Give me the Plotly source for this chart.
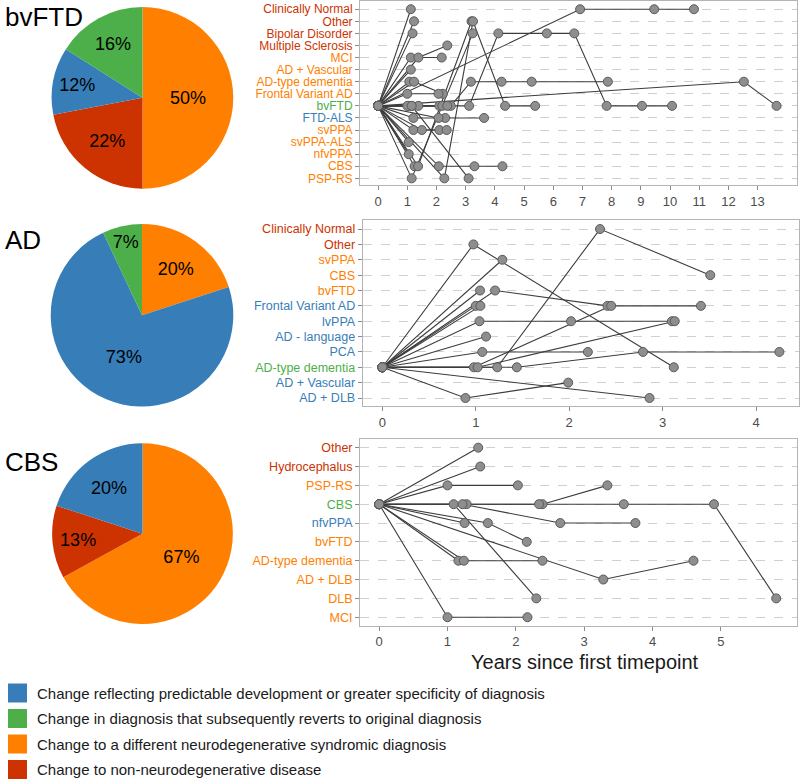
import plotly.graph_objects as go

BLUE = "#377EB8"
GREEN = "#4DAF4A"
ORANGE = "#FF7F00"
RED = "#CC3300"
FONT = "Liberation Sans, Arial, sans-serif"

# ---------------- pie data ----------------
pie_bvftd_values = [50, 22, 12, 16]
pie_bvftd_colors = [ORANGE, RED, BLUE, GREEN]
pie_ad_values = [20, 73, 7]
pie_ad_colors = [ORANGE, BLUE, GREEN]
pie_cbs_values = [67, 13, 20]
pie_cbs_colors = [ORANGE, RED, BLUE]

# ---------------- category axes (bottom -> top) ----------------
bvftd_categories = ["PSP-RS", "CBS", "nfvPPA", "svPPA-ALS", "svPPA", "FTD-ALS", "bvFTD",
                    "Frontal Variant AD", "AD-type dementia", "AD + Vascular", "MCI",
                    "Multiple Sclerosis", "Bipolar Disorder", "Other", "Clinically Normal"]
bvftd_label_colors = [ORANGE, ORANGE, ORANGE, ORANGE, ORANGE, BLUE, GREEN,
                      ORANGE, ORANGE, ORANGE, ORANGE, RED, RED, RED, RED]

ad_categories = ["AD + DLB", "AD + Vascular", "AD-type dementia", "PCA", "AD - language",
                 "lvPPA", "Frontal Variant AD", "bvFTD", "CBS", "svPPA", "Other",
                 "Clinically Normal"]
ad_label_colors = [BLUE, BLUE, GREEN, BLUE, BLUE, BLUE, BLUE, ORANGE, ORANGE, ORANGE, RED, RED]

cbs_categories = ["MCI", "DLB", "AD + DLB", "AD-type dementia", "bvFTD", "nfvPPA", "CBS",
                  "PSP-RS", "Hydrocephalus", "Other"]
cbs_label_colors = [ORANGE, ORANGE, ORANGE, ORANGE, ORANGE, BLUE, GREEN, ORANGE, RED, RED]

# ---------------- trajectories: years and diagnoses per patient ----------------
bvftd_times = [
    [0, 1.12], [0, 1.23], [0, 1.18], [0, 1.12, 2.18], [0, 1.38, 2.37], [0, 1.12],
    [0, 1.07], [0, 1.23, 2.22], [0, 1.0, 2.07], [0, 6.92, 9.46, 10.82], [0, 12.53, 13.65],
    [0, 1.05, 2.1, 3.12, 4.12, 5.78, 6.72, 7.83, 9.04, 10.07],
    [0, 1.16, 2.2], [0, 1.38, 2.49, 3.18, 4.23, 5.26, 7.87], [0, 1.0, 2.37],
    [0, 1.21, 2.3, 3.63], [0, 2.07], [0, 1.21, 2.1], [0, 1.5, 2.35], [0, 1.05], [0, 1.05],
    [0, 1.25], [0, 1.37, 3.2], [0, 2.08, 3.3, 4.26], [0, 1.15, 3.24],
    [0, 2.27, 3.25, 4.35, 5.38], [0, 1.15, 3.1],
]
bvftd_dx = [
    ["bvFTD", "Clinically Normal"], ["bvFTD", "Other"], ["bvFTD", "Bipolar Disorder"],
    ["bvFTD", "MCI", "MCI"], ["bvFTD", "MCI", "Multiple Sclerosis"], ["bvFTD", "AD + Vascular"],
    ["bvFTD", "AD-type dementia"], ["bvFTD", "AD-type dementia", "Frontal Variant AD"],
    ["bvFTD", "Frontal Variant AD", "Frontal Variant AD"],
    ["bvFTD", "Clinically Normal", "Clinically Normal", "Clinically Normal"],
    ["bvFTD", "AD-type dementia", "bvFTD"],
    ["bvFTD", "bvFTD", "bvFTD", "bvFTD", "Bipolar Disorder", "Bipolar Disorder",
     "Bipolar Disorder", "bvFTD", "bvFTD", "bvFTD"],
    ["bvFTD", "bvFTD", "bvFTD"],
    ["bvFTD", "bvFTD", "bvFTD", "AD-type dementia", "AD-type dementia", "AD-type dementia",
     "AD-type dementia"],
    ["bvFTD", "bvFTD", "bvFTD"],
    ["bvFTD", "FTD-ALS", "FTD-ALS", "FTD-ALS"], ["bvFTD", "FTD-ALS"],
    ["bvFTD", "svPPA", "svPPA"], ["bvFTD", "svPPA", "svPPA"], ["bvFTD", "svPPA-ALS"],
    ["bvFTD", "nfvPPA"], ["bvFTD", "CBS"], ["bvFTD", "CBS", "Other"],
    ["bvFTD", "CBS", "CBS", "CBS"], ["bvFTD", "PSP-RS", "Bipolar Disorder"],
    ["bvFTD", "PSP-RS", "Other", "bvFTD", "bvFTD"], ["bvFTD", "bvFTD", "PSP-RS"],
]

ad_times = [
    [0, 0.975, 3.12], [0, 1.285], [0, 1.23, 2.33, 3.51], [0, 1.207, 2.41, 3.41], [0, 1.046],
    [0, 1.0], [0, 1.05], [0, 1.04, 2.02, 3.10], [0, 0.98, 2.45], [0, 1.11], [0, 1.07, 2.2],
    [0, 1.02, 3.13], [0, 1.44, 2.79, 4.25], [0, 0.89, 1.99], [0, 2.86],
]
ad_dx = [
    ["AD-type dementia", "Other", "AD-type dementia"], ["AD-type dementia", "svPPA"],
    ["AD-type dementia", "AD-type dementia", "Clinically Normal", "CBS"],
    ["AD-type dementia", "bvFTD", "Frontal Variant AD", "Frontal Variant AD"],
    ["AD-type dementia", "bvFTD"], ["AD-type dementia", "Frontal Variant AD"],
    ["AD-type dementia", "Frontal Variant AD"],
    ["AD-type dementia", "lvPPA", "lvPPA", "lvPPA"],
    ["AD-type dementia", "AD-type dementia", "Frontal Variant AD"],
    ["AD-type dementia", "AD - language"], ["AD-type dementia", "PCA", "PCA"],
    ["AD-type dementia", "AD-type dementia", "lvPPA"],
    ["AD-type dementia", "AD-type dementia", "PCA", "PCA"],
    ["AD-type dementia", "AD + DLB", "AD + Vascular"], ["AD-type dementia", "AD + DLB"],
]

cbs_times = [
    [0, 1.45], [0, 1.48], [0, 1.0, 2.03], [0, 2.39, 3.34], [0, 1.28, 2.34, 3.58, 4.90, 5.81],
    [0, 1.25], [0, 1.22, 2.65, 3.75], [0, 1.59, 2.16], [0, 1.16], [0, 1.24, 2.39],
    [0, 3.28, 4.60], [0, 1.09, 2.30], [0, 1.0, 2.17],
]
cbs_dx = [
    ["CBS", "Other"], ["CBS", "Hydrocephalus"], ["CBS", "PSP-RS", "PSP-RS"],
    ["CBS", "CBS", "PSP-RS"], ["CBS", "CBS", "CBS", "CBS", "CBS", "DLB"],
    ["CBS", "nfvPPA"], ["CBS", "CBS", "nfvPPA", "nfvPPA"], ["CBS", "nfvPPA", "bvFTD"],
    ["CBS", "AD-type dementia"], ["CBS", "AD-type dementia", "AD-type dementia"],
    ["CBS", "AD + DLB", "AD-type dementia"], ["CBS", "CBS", "DLB"], ["CBS", "MCI", "MCI"],
]

legend_labels = [
    "Change reflecting predictable development or greater specificity of diagnosis",
    "Change in diagnosis that subsequently reverts to original diagnosis",
    "Change to a different neurodegenerative syndromic diagnosis",
    "Change to non-neurodegenerative disease",
]
legend_colors = [BLUE, GREEN, ORANGE, RED]

W, H = 800, 780


def px(x):
    return x / W


def py(y):
    return 1 - y / H


fig = go.Figure()

# ---------------- pies ----------------
pies = [
    (pie_bvftd_values, pie_bvftd_colors, [51.7, 233.3], [6.7, 189.0]),
    (pie_ad_values, pie_ad_colors, [50.7, 233.3], [223.3, 407.3]),
    (pie_cbs_values, pie_cbs_colors, [51.7, 233.3], [443.3, 624.0]),
]
for vals, cols, xd, yd in pies:
    fig.add_trace(go.Pie(
        values=vals, marker=dict(colors=cols, line=dict(width=0)),
        sort=False, direction="clockwise", rotation=0,
        texttemplate="%{value}%", textposition="inside", insidetextorientation="horizontal",
        insidetextfont=dict(size=18, color="black", family=FONT),
        domain=dict(x=[px(xd[0]), px(xd[1])], y=[py(yd[1]), py(yd[0])]),
        showlegend=False, hoverinfo="skip",
    ))

# ---------------- trajectory panels ----------------
panels = [
    dict(times=bvftd_times, dx=bvftd_dx, cats=bvftd_categories, cols=bvftd_label_colors,
         xdom=[360, 797], ydom=[1, 185], xr=[-0.62, 14.35], yr=[-0.55, 14.68],
         ticks=list(range(0, 14)), fs=12),
    dict(times=ad_times, dx=ad_dx, cats=ad_categories, cols=ad_label_colors,
         xdom=[362.7, 799], ydom=[220, 406], xr=[-0.21, 4.46], yr=[-0.52, 11.59],
         ticks=list(range(0, 5)), fs=12.5),
    dict(times=cbs_times, dx=cbs_dx, cats=cbs_categories, cols=cbs_label_colors,
         xdom=[360, 796.7], ydom=[439, 625.7], xr=[-0.28, 6.11], yr=[-0.45, 9.46],
         ticks=list(range(0, 6)), fs=12.5),
]

layout_axes = {}
for i, p in enumerate(panels, start=1):
    xs, ys = [], []
    mx, my = [], []
    for t, d in zip(p["times"], p["dx"]):
        xs += list(t) + [None]
        ys += list(d) + [None]
        mx += list(t)
        my += list(d)
    xa = "x" if i == 1 else f"x{i}"
    ya = "y" if i == 1 else f"y{i}"
    fig.add_trace(go.Scatter(x=xs, y=ys, mode="lines", xaxis=xa, yaxis=ya,
                             line=dict(color="#3c3c3c", width=1.1),
                             showlegend=False, hoverinfo="skip"))
    fig.add_trace(go.Scatter(x=mx, y=my, mode="markers", xaxis=xa, yaxis=ya,
                             marker=dict(size=9, color="#8e8e8e",
                                         line=dict(color="#5a5a5a", width=1)),
                             showlegend=False, hoverinfo="skip"))
    xkey = "xaxis" if i == 1 else f"xaxis{i}"
    ykey = "yaxis" if i == 1 else f"yaxis{i}"
    layout_axes[xkey] = dict(
        domain=[px(p["xdom"][0]), px(p["xdom"][1])], anchor=ya, range=p["xr"],
        tickvals=p["ticks"], showgrid=False, zeroline=False,
        showline=True, mirror=True, linecolor="#b4b4b4", linewidth=1,
        ticks="outside", ticklen=4, tickcolor="#8a8a8a",
        tickfont=dict(size=13, color="#4d4d4d", family=FONT),
    )
    layout_axes[ykey] = dict(
        domain=[py(p["ydom"][1]), py(p["ydom"][0])], anchor=xa, type="category",
        categoryorder="array", categoryarray=p["cats"], range=p["yr"],
        tickvals=p["cats"],
        ticktext=[f"<span style='color:{c}'>{n}</span>" for n, c in zip(p["cats"], p["cols"])],
        showgrid=True, gridcolor="#d0d0d0", griddash="dash", gridwidth=1, zeroline=False,
        showline=True, mirror=True, linecolor="#b4b4b4", linewidth=1,
        ticks="outside", ticklen=4, tickcolor="#8a8a8a",
        tickfont=dict(size=p["fs"], family=FONT),
    )

annotations = [
    dict(text="bvFTD", x=px(3), y=py(17), xanchor="left", yanchor="middle"),
    dict(text="AD", x=px(3), y=py(240), xanchor="left", yanchor="middle"),
    dict(text="CBS", x=px(3), y=py(462), xanchor="left", yanchor="middle"),
]
for a in annotations:
    a.update(xref="paper", yref="paper", showarrow=False,
             font=dict(size=26, color="black", family=FONT))

annotations.append(dict(text="Years since first timepoint", x=px(585), y=py(662),
                        xref="paper", yref="paper", showarrow=False,
                        xanchor="center", yanchor="middle",
                        font=dict(size=20, color="#1a1a1a", family=FONT)))

shapes = []
legend_centers = [693, 718.5, 744, 769.5]
for lab, col, cy in zip(legend_labels, legend_colors, legend_centers):
    shapes.append(dict(type="rect", xref="paper", yref="paper",
                       x0=px(8), x1=px(27), y0=py(cy + 9.5), y1=py(cy - 9.5),
                       fillcolor=col, line=dict(width=0)))
    annotations.append(dict(text=lab, x=px(35), y=py(cy), xref="paper", yref="paper",
                            showarrow=False, xanchor="left", yanchor="middle",
                            font=dict(size=15, color="#1a1a1a", family=FONT)))

fig.update_layout(
    width=W, height=H, margin=dict(l=0, r=0, t=0, b=0),
    paper_bgcolor="white", plot_bgcolor="white",
    annotations=annotations, shapes=shapes, showlegend=False,
    font=dict(family=FONT),
    **layout_axes,
)

fig.write_html("out.html", config={"displayModeBar": False},
               post_script="document.body.style.margin='0px';")
